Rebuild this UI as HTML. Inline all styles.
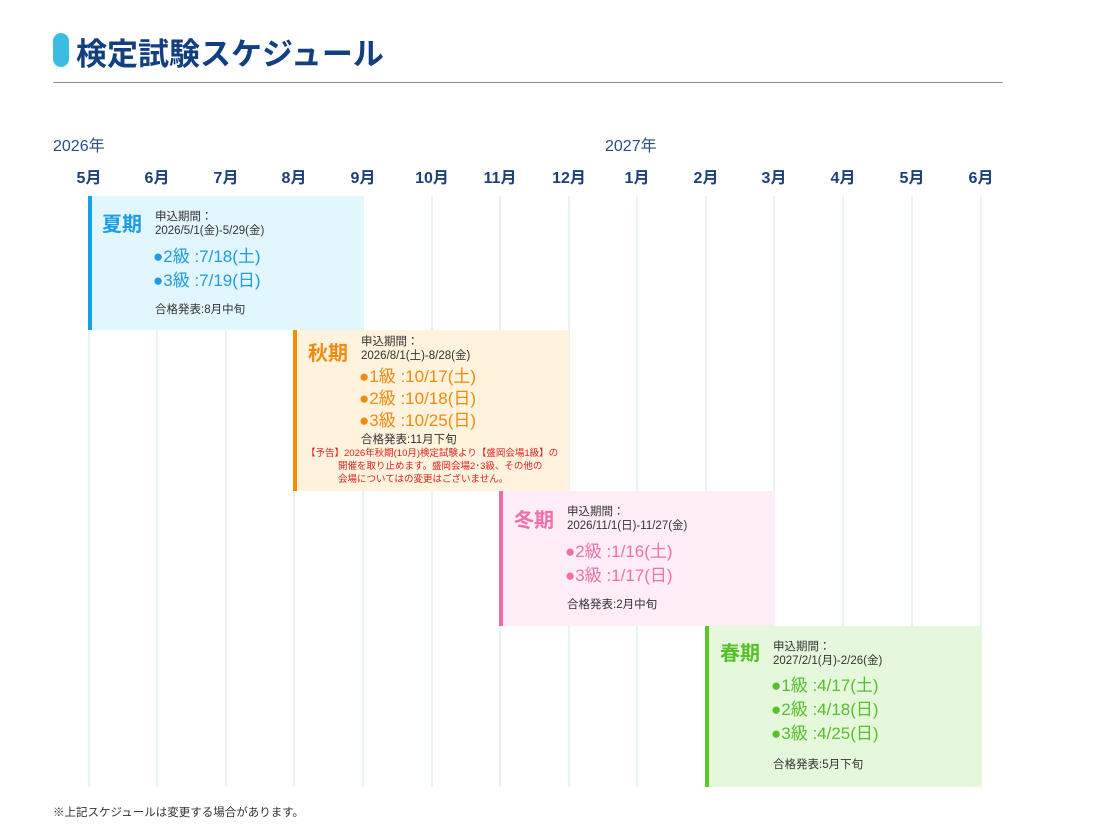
<!DOCTYPE html>
<html><head><meta charset="utf-8"><style>
body{margin:0;width:1110px;height:834px;background:#fff;font-family:"Liberation Sans","Noto Sans CJK JP",sans-serif;position:relative;overflow:hidden}
.a{position:absolute;white-space:nowrap}
.pill{left:53px;top:33px;width:16px;height:34px;border-radius:8px;background:#3bbde3}
.title{left:76px;top:29px;font-size:31px;font-weight:bold;color:#123f82}
.hr{left:53px;top:82px;width:950px;height:1px;background:#7d93b0}
.yr{font-size:16px;color:#2a4f84;top:132px}
.mo{font-size:16px;font-weight:bold;color:#1d3f78;top:164px;width:60px;text-align:center}
.g{top:196px;height:591px;width:2px;background:#e6f1f8}
.box{box-sizing:border-box;border-left:4px solid}
.sn{font-size:20px;font-weight:bold}
.inf{font-size:11.5px;color:#333;line-height:14px}
.dt{font-size:17px;line-height:24px}
.red{font-size:9.5px;color:#e02020;line-height:12px}
</style></head><body>
<div class="a pill"></div>
<div class="a title">検定試験スケジュール</div>
<div class="a hr"></div>
<div class="a yr" style="left:53px">2026年</div>
<div class="a yr" style="left:605px">2027年</div>

<div class="a g" style="left:88px"></div><div class="a g" style="left:156px"></div><div class="a g" style="left:225px"></div><div class="a g" style="left:293px"></div><div class="a g" style="left:362px"></div><div class="a g" style="left:431px"></div><div class="a g" style="left:499px"></div><div class="a g" style="left:568px"></div><div class="a g" style="left:636px"></div><div class="a g" style="left:705px"></div><div class="a g" style="left:773px"></div><div class="a g" style="left:842px"></div><div class="a g" style="left:911px"></div><div class="a g" style="left:980px"></div>

<div class="a mo" style="left:59px">5月</div><div class="a mo" style="left:127px">6月</div><div class="a mo" style="left:196px">7月</div><div class="a mo" style="left:264px">8月</div><div class="a mo" style="left:333px">9月</div><div class="a mo" style="left:402px">10月</div><div class="a mo" style="left:470px">11月</div><div class="a mo" style="left:539px">12月</div><div class="a mo" style="left:607px">1月</div><div class="a mo" style="left:676px">2月</div><div class="a mo" style="left:744px">3月</div><div class="a mo" style="left:813px">4月</div><div class="a mo" style="left:882px">5月</div><div class="a mo" style="left:951px">6月</div>

<div class="a box" style="left:88px;top:196px;width:276px;height:134px;background:#e2f6fd;border-color:#13a1ea"></div>
<div class="a sn" style="left:102px;top:208px;color:#1d9ce6">夏期</div>
<div class="a inf" style="left:155px;top:210px">申込期間：<br>2026/5/1(金)-5/29(金)</div>
<div class="a dt" style="left:153px;top:245px;color:#1d9ce6">●2級 :7/18(土)<br>●3級 :7/19(日)</div>
<div class="a inf" style="left:155px;top:303px">合格発表:8月中旬</div>

<div class="a box" style="left:293px;top:330px;width:276px;height:161px;background:#fff3dd;border-color:#f38c00"></div>
<div class="a sn" style="left:308px;top:337px;color:#f28a10">秋期</div>
<div class="a inf" style="left:361px;top:335px">申込期間：<br>2026/8/1(土)-8/28(金)</div>
<div class="a dt" style="left:359px;top:366px;color:#f28a10;line-height:22px">●1級 :10/17(土)<br>●2級 :10/18(日)<br>●3級 :10/25(日)</div>
<div class="a inf" style="left:361px;top:433px">合格発表:11月下旬</div>
<div class="a red" style="left:306px;top:448px">【予告】2026年秋期(10月)検定試験より【盛岡会場1級】の</div>
<div class="a red" style="left:338px;top:461px">開催を取り止めます。盛岡会場2･3級、その他の</div>
<div class="a red" style="left:338px;top:474px">会場についてはの変更はございません。</div>

<div class="a box" style="left:499px;top:491px;width:276px;height:135px;background:#feedf7;border-color:#f06aa8"></div>
<div class="a sn" style="left:514px;top:504px;color:#f070a8">冬期</div>
<div class="a inf" style="left:567px;top:505px">申込期間：<br>2026/11/1(日)-11/27(金)</div>
<div class="a dt" style="left:565px;top:540px;color:#f070a8">●2級 :1/16(土)<br>●3級 :1/17(日)</div>
<div class="a inf" style="left:567px;top:598px">合格発表:2月中旬</div>

<div class="a box" style="left:705px;top:626px;width:277px;height:161px;background:#e6f8dc;border-color:#56c628"></div>
<div class="a sn" style="left:720px;top:637px;color:#55c02a">春期</div>
<div class="a inf" style="left:773px;top:640px">申込期間：<br>2027/2/1(月)-2/26(金)</div>
<div class="a dt" style="left:771px;top:674px;color:#55c02a">●1級 :4/17(土)<br>●2級 :4/18(日)<br>●3級 :4/25(日)</div>
<div class="a inf" style="left:773px;top:758px">合格発表:5月下旬</div>

<div class="a" style="left:53px;top:804px;font-size:11.5px;color:#333">※上記スケジュールは変更する場合があります。</div>
</body></html>
